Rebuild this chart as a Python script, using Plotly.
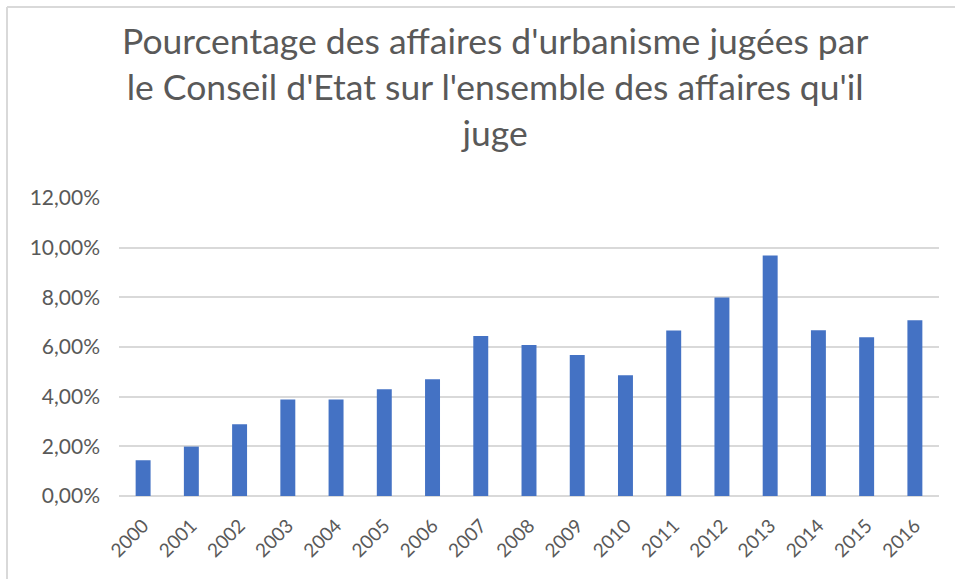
import plotly.graph_objects as go

years = ["2000", "2001", "2002", "2003", "2004", "2005", "2006", "2007", "2008",
         "2009", "2010", "2011", "2012", "2013", "2014", "2015", "2016"]
values = [0.0144, 0.0199, 0.0289, 0.0389, 0.0389, 0.0430, 0.0470, 0.0644, 0.0608,
          0.0568, 0.0486, 0.0666, 0.0799, 0.0968, 0.0667, 0.0639, 0.0708]
title_text = ("Pourcentage des affaires d'urbanisme jugées par<br>"
              "le Conseil d'Etat sur l'ensemble des affaires qu'il<br>juge")

W, H = 955, 579
L, R, T, B = 119, 16, 198, 83
pw, ph = W - L - R, H - T - B


def px_x(x):
    return (x - L) / pw


def px_y(y):
    return (H - B - y) / ph


fig = go.Figure(go.Bar(x=years, y=values, marker_color="#4472C4",
                       marker_line_width=0))

fig.update_layout(
    width=W, height=H,
    margin=dict(l=L, r=R, t=T, b=B, autoexpand=False),
    paper_bgcolor="white", plot_bgcolor="white",
    separators=",.",
    bargap=0.69,
    font=dict(family="Lato, Open Sans, sans-serif", color="#595959"),
    xaxis=dict(tickangle=-45, tickfont=dict(size=19), showgrid=False,
               showline=False, ticks="", ticklabelstandoff=14),
    yaxis=dict(range=[0, 0.12], dtick=0.02, tickformat=".2%",
               tickfont=dict(size=21), gridcolor="#d9d9d9", gridwidth=1.5,
               zeroline=True, zerolinecolor="#d9d9d9", zerolinewidth=1.5,
               showline=False, ticks="", ticklen=0, ticklabelstandoff=18),
    showlegend=False,
)

fig.add_annotation(text=title_text, xref="paper", yref="paper",
                   x=px_x(495), y=px_y(17), xanchor="center", yanchor="top",
                   showarrow=False, align="center",
                   font=dict(size=35.5, color="#595959"))

# outer chart border (top and left edges visible)
fig.add_shape(type="line", xref="paper", yref="paper",
              x0=px_x(7), x1=px_x(956), y0=px_y(7), y1=px_y(7),
              line=dict(color="#d9d9d9", width=2))
fig.add_shape(type="line", xref="paper", yref="paper",
              x0=px_x(7), x1=px_x(7), y0=px_y(7), y1=px_y(580),
              line=dict(color="#d9d9d9", width=2))

fig.write_html("out.html", config={"displayModeBar": False},
               post_script="document.body.style.margin='0';"
                           "document.body.style.overflow='hidden';")
